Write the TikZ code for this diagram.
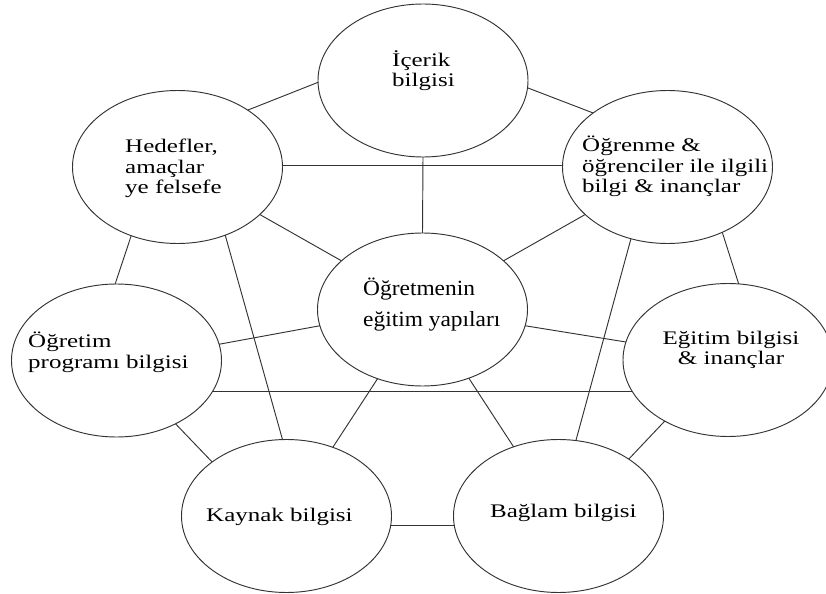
\documentclass[tikz,border=0pt]{standalone}
\usepackage{fontspec}
\setmainfont{Liberation Serif}
\newfontfamily\widefont[FakeStretch=1.3]{Liberation Serif}
\newfontfamily\corefont[FakeStretch=1.08]{Liberation Serif}
\usetikzlibrary{shapes.geometric}
\begin{document}
\begin{tikzpicture}[x=0.03cm, y=-0.03cm,
  bubble/.style={ellipse, draw=black!80, line width=0.8pt, fill=white,
    minimum width=6.3cm, minimum height=4.59cm, inner sep=0pt, outer sep=0pt},
  link/.style={draw=black!80, line width=0.8pt},
  lbl/.style={inner sep=0pt, align=left, anchor=base west,
    font=\widefont\fontsize{16.4}{17.9}\selectfont},
  corelbl/.style={inner sep=0pt, align=left, anchor=base west,
    font=\corefont\fontsize{18.5}{27.3}\selectfont}]
\useasboundingbox (0,0) rectangle (826,594);

% bubble centres
\path
  (423,80.5)    coordinate (c-ic)
  (177.5,167)   coordinate (c-hd)
  (667.5,167)   coordinate (c-og)
  (116.5,360.5) coordinate (c-op)
  (422.5,309.5) coordinate (c-ce)
  (728,360)     coordinate (c-eg)
  (286.5,516)   coordinate (c-ky)
  (558.5,516)   coordinate (c-bg);

\node[bubble] (ic) at (c-ic) {};
\node[bubble] (hd) at (c-hd) {};
\node[bubble] (og) at (c-og) {};
\node[bubble] (op) at (c-op) {};
\node[bubble] (ce) at (c-ce) {};
\node[bubble] (eg) at (c-eg) {};
\node[bubble] (ky) at (c-ky) {};
\node[bubble] (bg) at (c-bg) {};

% connectors between the bubbles
\draw[link] (hd.39.4) -- (ic.181);
\draw[link] (ic.-4.1) -- (og.144.1);
\draw[link] (hd.1.6) -- (hd.1.6 -| og.178.4);
\draw[link] (ic.-90) -- (ce.90);
\draw[link] (hd.-30.5) -- (ce.149.5);
\draw[link] (og.210.2) -- (ce.31);
\draw[link] (hd.-124) -- (op.91);
\draw[link] (hd.-55.3) -- (ky.93.3);
\draw[link] (og.-117.8) -- (bg.77.8);
\draw[link] (og.-50.5) -- (eg.82.6);
\draw[link] (op.9.6) -- (ce.189.5);
\draw[link] (ce.-9.5) -- (eg.170.5);
\draw[link] (op.-18.2) -- (op.-18.2 -| eg.198.5);
\draw[link] (op.-47.3) -- (ky.144.4);
\draw[link] (ce.-123.2) -- (ky.56.4);
\draw[link] (ce.-56.8) -- (bg.123.4);
\draw[link] (eg.-136.3) -- (bg.39.4);
\draw[link] (ky.-5.5) -- (ky.-5.5 -| bg.185.5);

% labels (anchored on the baseline of their last line)
\node[lbl] (t-ic) at (392,87) {İçerik\\bilgisi};
\node[lbl] (t-hd) at (125,194) {Hedefler,\\amaçlar\\ye felsefe};
\node[lbl] (t-og) at (582,193) {Öğrenme \&\\öğrenciler ile ilgili\\bilgi \& inançlar};
\node[lbl] (t-op) at (28,368) {Öğretim\\programı bilgisi};
\node[corelbl] (t-ce) at (363,327) {Öğretmenin\\eğitim yapıları};
\node[lbl, align=center, anchor=base] (t-eg) at (731,365) {Eğitim bilgisi\\\& inançlar};
\node[lbl] (t-ky) at (206,521) {Kaynak bilgisi};
\node[lbl] (t-bg) at (490,517) {Bağlam bilgisi};
\end{tikzpicture}
\end{document}
